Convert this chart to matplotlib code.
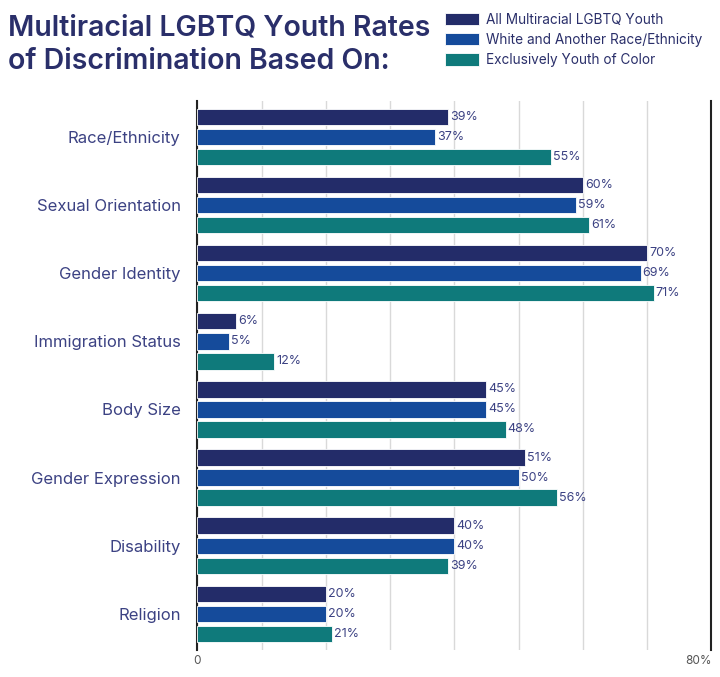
import numpy as np
import matplotlib.pyplot as plt

# --- DATA ---------------------------------------------------------------
categories = ["Race/Ethnicity", "Sexual Orientation", "Gender Identity",
              "Immigration Status", "Body Size", "Gender Expression",
              "Disability", "Religion"]
all_multiracial = [39, 60, 70, 6, 45, 51, 40, 20]
white_and_another = [37, 59, 69, 5, 45, 50, 40, 20]
youth_of_color = [55, 61, 71, 12, 48, 56, 39, 21]
series_names = ["All Multiracial LGBTQ Youth",
                "White and Another Race/Ethnicity",
                "Exclusively Youth of Color"]
# -----------------------------------------------------------------------

colors = ["#232C69", "#154B9B", "#0F7A7B"]
text_color = "#2A2F6A"
label_color = "#3C4283"

plt.rcParams["font.family"] = ["Inter", "DejaVu Sans"]

fig = plt.figure(figsize=(7.2, 6.77), dpi=100)
ax = fig.add_axes([0.274, 0.040, 0.714, 0.811])

y = np.arange(len(categories))
pitch = 0.294
height = 0.24
series = [all_multiracial, white_and_another, youth_of_color]

for i, (vals, c, name) in enumerate(zip(series, colors, series_names)):
    pos = y + (i - 1) * pitch
    bars = ax.barh(pos, vals, height=height, color=c, edgecolor="white",
                   linewidth=0.6, label=name, zorder=3)
    for b, v in zip(bars, vals):
        ax.text(b.get_width() + 0.3, b.get_y() + b.get_height() / 2,
                f"{v}%", va="center", ha="left", fontsize=9,
                color=label_color, zorder=4)

ax.set_xlim(0, 80)
ax.set_ylim(len(categories) - 0.47, -0.53)
ax.set_xticks(np.arange(0, 81, 10))
ax.set_xticklabels(["0", "", "", "", "", "", "", "", "80%"])
ax.get_xticklabels()[-1].set_ha("right")
ax.tick_params(axis="x", length=0, labelsize=8.5, labelcolor="#555555", pad=4)
ax.set_yticks(y)
ax.set_yticklabels(categories, fontsize=12, color=label_color)
ax.tick_params(axis="y", length=0, pad=12)
ax.grid(axis="x", color="#d9d9d9", linewidth=1, zorder=0)

for side in ["top", "bottom"]:
    ax.spines[side].set_visible(False)
for side in ["left", "right"]:
    ax.spines[side].set_color("#222222")
    ax.spines[side].set_linewidth(1.5)

fig.text(0.011, 0.979, "Multiracial LGBTQ Youth Rates\nof Discrimination Based On:",
         fontsize=20.5, fontweight="semibold", color=text_color, va="top",
         ha="left", linespacing=1.3)

fig.legend(loc="upper left", bbox_to_anchor=(0.608, 0.991), frameon=False,
           borderpad=0, fontsize=9.8, labelcolor=text_color, handlelength=2.5,
           handleheight=1.0, handletextpad=0.55, labelspacing=0.45)

fig.savefig("out.png", dpi=100)
